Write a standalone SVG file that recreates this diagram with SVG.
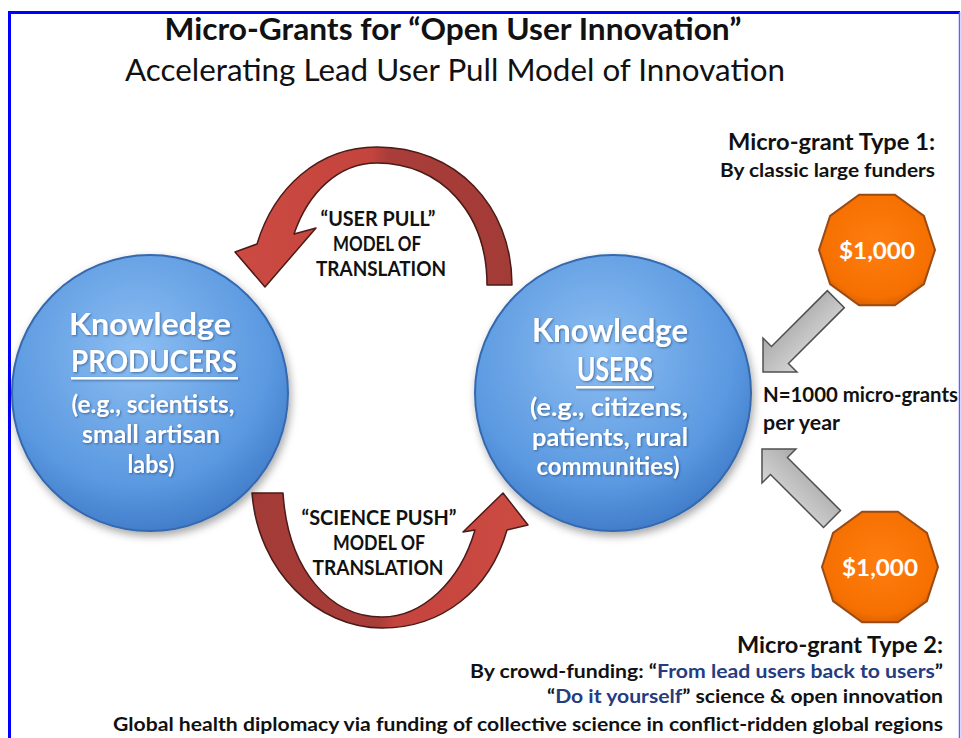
<svg xmlns="http://www.w3.org/2000/svg" width="961" height="738" viewBox="0 0 961 738">
<style>
.t{font-family:Lato,"Open Sans","Liberation Sans",sans-serif;font-weight:bold;fill:#111}
.r{font-weight:normal}
.w{fill:#fff}
.blue{fill:#243c80}
.lab{font-size:20px}
.circ{stroke:#3568ad;stroke-width:2}
.gray{fill:url(#gg);stroke:#505050;stroke-width:1.5;stroke-linejoin:miter}
.dec{fill:url(#og);stroke:#9a4a14;stroke-width:2}
.red{stroke:#4a1b18;stroke-width:1.5;stroke-linejoin:round}
</style>
<defs>
<radialGradient id="bg" cx="0.45" cy="0.35" r="0.7">
<stop offset="0" stop-color="#8cbef2"/>
<stop offset="0.7" stop-color="#5a98e0"/>
<stop offset="1" stop-color="#3b76c4"/>
</radialGradient>
<radialGradient id="og" cx="0.5" cy="0.45" r="0.6">
<stop offset="0" stop-color="#ff7d10"/>
<stop offset="0.8" stop-color="#f57000"/>
<stop offset="1" stop-color="#d05c00"/>
</radialGradient>
<linearGradient id="gg" x1="0" y1="0" x2="0" y2="1">
<stop offset="0" stop-color="#d6d6d6"/>
<stop offset="1" stop-color="#a9a9a9"/>
</linearGradient>
<linearGradient id="rt" gradientUnits="userSpaceOnUse" x1="230" y1="0" x2="512" y2="0">
<stop offset="0" stop-color="#cc4a42"/>
<stop offset="0.5" stop-color="#c4453e"/>
<stop offset="0.56" stop-color="#a93d39"/>
<stop offset="1" stop-color="#a33b37"/>
</linearGradient>
<linearGradient id="rb" gradientUnits="userSpaceOnUse" x1="252" y1="0" x2="528" y2="0">
<stop offset="0" stop-color="#a33b37"/>
<stop offset="0.46" stop-color="#a93d39"/>
<stop offset="0.52" stop-color="#c4453e"/>
<stop offset="1" stop-color="#cc4a42"/>
</linearGradient>
<filter id="sh" x="-20%" y="-20%" width="140%" height="140%">
<feDropShadow dx="2" dy="4" stdDeviation="4" flood-color="#000" flood-opacity="0.35"/>
</filter>
<filter id="ts" x="-10%" y="-10%" width="120%" height="130%">
<feDropShadow dx="1" dy="1" stdDeviation="0.8" flood-color="#1d3d6a" flood-opacity="0.6"/>
</filter>
</defs>
<rect width="961" height="738" fill="#fff"/>
<path d="M9.5,738 V12.5 H960" fill="none" stroke="#0000ff" stroke-width="3"/>
<line x1="959.5" y1="12" x2="959.5" y2="738" stroke="#6060ff" stroke-width="1.5"/>

<g id="title">
<text class="t" x="453" y="40" font-size="30" text-anchor="middle" textLength="577" lengthAdjust="spacingAndGlyphs">Micro-Grants for “Open User Innovation”</text>
<text class="t r" x="455" y="81" font-size="31" text-anchor="middle" textLength="660" lengthAdjust="spacingAndGlyphs">Accelerating Lead User Pull Model of Innovation</text>
</g>

<g id="connectors">
<g id="user-pull-arrow">
<path class="red" fill="url(#rt)" d="M512,285 C512,205 455,147 377,147 C318,147 274,188 257,244 L235,252 L265,287 L316,228 L294,234 C308,193 338,163 377,163 C440,163 487,212 487,285 Z"/>
</g>
<g id="science-push-arrow">
<path class="red" fill="url(#rb)" d="M252,493 C258,572 318,628 382,628 C442,628 490,590 507,530 L528,525 L503,493 L463,532 L475,530 C460,582 422,617 382,617 C330,617 288,570 283,493 Z"/>
</g>
<g id="grant1-arrow">
<polygon class="gray" transform="translate(763,372) rotate(135)" points="0,0 -24,-24 -24,-12 -103,-12 -103,12 -24,12 -24,24"/>
</g>
<g id="grant2-arrow">
<polygon class="gray" transform="translate(762,449) rotate(225)" points="0,0 -24,-24 -24,-12 -99,-12 -99,12 -24,12 -24,24"/>
</g>
</g>

<g id="producers">
<circle class="circ" cx="150" cy="393" r="138" fill="url(#bg)" filter="url(#sh)"/>
<g filter="url(#ts)">
<text class="t w" x="150" y="335" font-size="30" text-anchor="middle" textLength="162" lengthAdjust="spacingAndGlyphs">Knowledge</text>
<text class="t w" x="154" y="372" font-size="30" text-anchor="middle" textLength="166" lengthAdjust="spacingAndGlyphs">PRODUCERS</text>
<rect x="71" y="377" width="167" height="2.5" fill="#fff"/>
<text class="t w" x="153" y="413" font-size="25" text-anchor="middle" textLength="163" lengthAdjust="spacingAndGlyphs">(e.g., scientists,</text>
<text class="t w" x="151" y="443" font-size="25" text-anchor="middle" textLength="138" lengthAdjust="spacingAndGlyphs">small artisan</text>
<text class="t w" x="151" y="473" font-size="25" text-anchor="middle" textLength="47" lengthAdjust="spacingAndGlyphs">labs)</text>
</g>
</g>

<g id="users">
<circle class="circ" cx="613" cy="393" r="138" fill="url(#bg)" filter="url(#sh)"/>
<g filter="url(#ts)">
<text class="t w" x="610" y="342" font-size="32" text-anchor="middle" textLength="156" lengthAdjust="spacingAndGlyphs">Knowledge</text>
<text class="t w" x="615" y="381" font-size="32" text-anchor="middle" textLength="76" lengthAdjust="spacingAndGlyphs">USERS</text>
<rect x="576" y="386" width="78" height="2.5" fill="#fff"/>
<text class="t w" x="609" y="416" font-size="25" text-anchor="middle" textLength="158" lengthAdjust="spacingAndGlyphs">(e.g., citizens,</text>
<text class="t w" x="610" y="446" font-size="25" text-anchor="middle" textLength="156" lengthAdjust="spacingAndGlyphs">patients, rural</text>
<text class="t w" x="608" y="475" font-size="25" text-anchor="middle" textLength="143" lengthAdjust="spacingAndGlyphs">communities)</text>
</g>
</g>

<g id="user-pull-label">
<text class="t lab" x="378" y="226" text-anchor="middle" textLength="115" lengthAdjust="spacingAndGlyphs">“USER PULL”</text>
<text class="t lab" x="377" y="251" text-anchor="middle" textLength="88" lengthAdjust="spacingAndGlyphs">MODEL OF</text>
<text class="t lab" x="381" y="276" text-anchor="middle" textLength="130" lengthAdjust="spacingAndGlyphs">TRANSLATION</text>
</g>

<g id="science-push-label">
<text class="t lab" x="379" y="525" text-anchor="middle" textLength="155" lengthAdjust="spacingAndGlyphs">“SCIENCE PUSH”</text>
<text class="t lab" x="379" y="550" text-anchor="middle" textLength="92" lengthAdjust="spacingAndGlyphs">MODEL OF</text>
<text class="t lab" x="378" y="575" text-anchor="middle" textLength="131" lengthAdjust="spacingAndGlyphs">TRANSLATION</text>
</g>

<g id="grant-type-1">
<text class="t" x="935" y="150" font-size="22" text-anchor="end" textLength="207" lengthAdjust="spacingAndGlyphs">Micro-grant Type 1:</text>
<text class="t" x="935" y="177" font-size="19" text-anchor="end" textLength="215" lengthAdjust="spacingAndGlyphs">By classic large funders</text>
</g>

<g id="grant1">
<polygon class="dec" transform="translate(877,250)" points="58,0 46.9,34.1 17.9,55.2 -17.9,55.2 -46.9,34.1 -58,0 -46.9,-34.1 -17.9,-55.2 17.9,-55.2 46.9,-34.1"/>
<text class="t w" x="877" y="259" font-size="23" text-anchor="middle" textLength="76" lengthAdjust="spacingAndGlyphs">$1,000</text>
</g>

<g id="grant2">
<polygon class="dec" transform="translate(880,567)" points="58,0 46.9,34.1 17.9,55.2 -17.9,55.2 -46.9,34.1 -58,0 -46.9,-34.1 -17.9,-55.2 17.9,-55.2 46.9,-34.1"/>
<text class="t w" x="880" y="576" font-size="23" text-anchor="middle" textLength="76" lengthAdjust="spacingAndGlyphs">$1,000</text>
</g>

<g id="n-grants">
<text class="t" x="763" y="402" font-size="20" textLength="195" lengthAdjust="spacingAndGlyphs">N=1000 micro-grants</text>
<text class="t" x="763" y="430" font-size="20" textLength="77" lengthAdjust="spacingAndGlyphs">per year</text>
</g>

<g id="grant-type-2">
<text class="t" x="943" y="653" font-size="22" text-anchor="end" textLength="206" lengthAdjust="spacingAndGlyphs">Micro-grant Type 2:</text>
<text class="t" x="943" y="678" font-size="19" text-anchor="end" textLength="473" lengthAdjust="spacingAndGlyphs">By crowd-funding: “<tspan class="blue">From lead users back to users</tspan>”</text>
<text class="t" x="943" y="703" font-size="19" text-anchor="end" textLength="396" lengthAdjust="spacingAndGlyphs">“<tspan class="blue">Do it yourself</tspan>” science &amp; open innovation</text>
<text class="t" x="943" y="731" font-size="19" text-anchor="end" textLength="830" lengthAdjust="spacingAndGlyphs">Global health diplomacy via funding of collective science in conflict-ridden global regions</text>
</g>
</svg>
